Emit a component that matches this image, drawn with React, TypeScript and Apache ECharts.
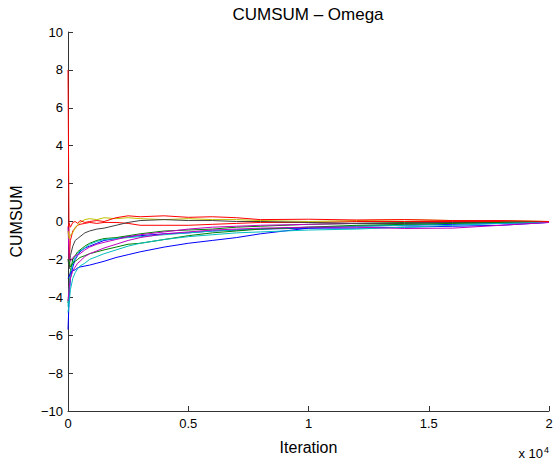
import React, { useEffect, useRef } from "react";
import * as echarts from "echarts";

const iterations = [0, 50, 100, 200, 300, 400, 500, 700, 900, 1200, 1500, 2000, 2500, 3000, 4000, 5000, 6000, 7000, 8000, 10000, 12000, 14000, 16000, 18000, 20000];

const blueA = [-5.7, -4.0, -3.0, -2.4, -2.0, -1.8, -1.6, -1.4, -1.3, -1.15, -1.0, -0.9, -0.8, -0.75, -0.65, -0.6, -0.5, -0.45, -0.4, -0.35, -0.25, -0.2, -0.15, -0.1, -0.05];
const greenA = [-4.3, -3.5, -2.6, -2.0, -1.8, -1.6, -1.5, -1.3, -1.15, -1.0, -0.9, -0.85, -0.75, -0.65, -0.5, -0.45, -0.4, -0.3, -0.25, -0.15, -0.1, -0.05, -0.05, 0.0, 0.0];
const redA = [8.0, -2.0, -1.0, -0.5, -0.35, -0.2, -0.15, -0.1, -0.05, -0.1, -0.05, -0.05, -0.1, -0.2, -0.2, -0.2, -0.15, -0.1, -0.05, -0.05, 0.0, 0.0, 0.0, 0.0, 0.0];
const cyanA = [-4.5, -3.5, -2.8, -2.2, -1.9, -1.7, -1.55, -1.4, -1.2, -1.05, -0.95, -0.9, -0.85, -0.8, -0.7, -0.6, -0.5, -0.45, -0.4, -0.3, -0.25, -0.2, -0.1, -0.05, 0.0];
const magentaA = [-0.3, -2.0, -2.1, -1.9, -1.8, -1.75, -1.7, -1.5, -1.35, -1.2, -1.1, -0.95, -0.8, -0.7, -0.55, -0.4, -0.3, -0.25, -0.2, -0.15, -0.1, -0.1, -0.05, -0.05, 0.0];
const yellow = [-0.5, -0.9, -0.7, -0.6, -0.3, -0.2, -0.05, 0.1, 0.15, 0.1, 0.2, 0.15, 0.2, 0.15, 0.1, 0.15, 0.1, 0.1, 0.05, 0.0, 0.05, 0.1, 0.05, 0.05, 0.0];
const gray = [-2.0, -2.5, -1.8, -1.3, -1.0, -0.9, -0.8, -0.6, -0.5, -0.4, -0.35, -0.2, -0.05, 0.05, 0.1, 0.05, 0.05, 0.0, 0.0, -0.05, -0.1, -0.1, -0.05, -0.05, 0.0];
const blueB = [-3.0, -2.9, -2.7, -2.6, -2.55, -2.45, -2.4, -2.35, -2.3, -2.2, -2.1, -1.9, -1.75, -1.6, -1.35, -1.15, -1.0, -0.85, -0.65, -0.35, -0.35, -0.3, -0.25, -0.2, -0.05];
const greenB = [-2.0, -2.1, -2.4, -2.2, -2.1, -2.0, -1.9, -1.8, -1.7, -1.6, -1.5, -1.35, -1.2, -1.15, -0.95, -0.75, -0.6, -0.5, -0.4, -0.3, -0.2, -0.15, -0.1, -0.05, 0.0];
const redB = [-0.3, -0.1, -0.3, -0.05, 0.0, -0.1, 0.05, -0.05, 0.0, 0.05, 0.0, 0.2, 0.3, 0.25, 0.3, 0.22, 0.25, 0.2, 0.1, 0.12, 0.08, 0.1, 0.05, 0.05, 0.0];
const cyanB = [-4.8, -4.3, -3.6, -3.0, -2.7, -2.5, -2.35, -2.2, -2.0, -1.85, -1.7, -1.5, -1.3, -1.15, -0.95, -0.8, -0.7, -0.6, -0.55, -0.45, -0.4, -0.3, -0.2, -0.1, -0.05];
const magentaB = [-4.2, -3.5, -3.0, -2.6, -2.4, -2.2, -2.1, -1.85, -1.7, -1.55, -1.4, -1.2, -1.0, -0.85, -0.65, -0.55, -0.45, -0.4, -0.35, -0.3, -0.3, -0.37, -0.35, -0.2, -0.05];

const chains = [
  { name: "chain1", color: "#0000ff", values: blueA },
  { name: "chain2", color: "#008000", values: greenA },
  { name: "chain3", color: "#ff0000", values: redA },
  { name: "chain4", color: "#00bfbf", values: cyanA },
  { name: "chain5", color: "#bf00bf", values: magentaA },
  { name: "chain6", color: "#bfbf00", values: yellow },
  { name: "chain7", color: "#404040", values: gray },
  { name: "chain8", color: "#0000ff", values: blueB },
  { name: "chain9", color: "#008000", values: greenB },
  { name: "chain10", color: "#ff0000", values: redB },
  { name: "chain11", color: "#00bfbf", values: cyanB },
  { name: "chain12", color: "#bf00bf", values: magentaB },
];

const titleText = "CUMSUM \u2013 Omega";
const xName = "Iteration";
const yName = "CUMSUM";
const yTicks = { min: -10, max: 10, interval: 2 };
const xTicks = { min: 0, max: 20000, interval: 5000, scale: 10000 };

const FONT = "'Liberation Sans', Arial, Helvetica, sans-serif";

export default function App() {
  const ref = useRef<HTMLDivElement>(null);
  useEffect(() => {
    if (!ref.current) return;
    const chart = echarts.init(ref.current, null, { renderer: "svg" });
    const axisColor = "#333333";
    chart.setOption({
      animation: false,
      backgroundColor: "#ffffff",
      textStyle: { fontFamily: FONT },
      grid: { left: 68, right: 7, top: 32, bottom: 55, containLabel: false },
      xAxis: {
        type: "value",
        min: xTicks.min,
        max: xTicks.max,
        interval: xTicks.interval,
        name: xName,
        nameLocation: "middle",
        nameGap: 28,
        nameTextStyle: { color: "#000", fontSize: 16, fontFamily: FONT },
        axisLine: { show: true, onZero: false, lineStyle: { color: axisColor, width: 1 } },
        axisTick: { show: true, inside: true, length: 5, lineStyle: { color: axisColor } },
        splitLine: { show: false },
        axisLabel: {
          color: "#000",
          fontSize: 13,
          fontFamily: FONT,
          margin: 6,
          formatter: (v: number) => String(v / xTicks.scale),
        },
      },
      yAxis: {
        type: "value",
        min: yTicks.min,
        max: yTicks.max,
        interval: yTicks.interval,
        name: yName,
        nameLocation: "middle",
        nameRotate: 90,
        nameGap: 44,
        nameTextStyle: { color: "#000", fontSize: 16, fontFamily: FONT },
        axisLine: { show: true, onZero: false, lineStyle: { color: axisColor, width: 1 } },
        axisTick: { show: true, inside: true, length: 5, lineStyle: { color: axisColor } },
        splitLine: { show: false },
        axisLabel: {
          color: "#000",
          fontSize: 13,
          fontFamily: FONT,
          margin: 5,
          formatter: (v: number) => (v < 0 ? "\u2212" + Math.abs(v) : String(v)),
        },
      },
      series: chains.map((c) => ({
        name: c.name,
        type: "line",
        showSymbol: false,
        symbol: "none",
        data: iterations.map((it, i) => [it, c.values[i]]),
        lineStyle: { color: c.color, width: 1 },
        itemStyle: { color: c.color },
        emphasis: { disabled: true },
      })),
      graphic: [
        {
          type: "text",
          x: 308,
          y: 14,
          style: {
            text: titleText,
            align: "center",
            verticalAlign: "middle",
            fontSize: 17,
            fontFamily: FONT,
            fill: "#000",
          },
        },
        {
          type: "text",
          x: 543,
          y: 460,
          style: {
            text: "x 10",
            align: "right",
            verticalAlign: "bottom",
            fontSize: 13,
            fontFamily: FONT,
            fill: "#000",
          },
        },
        {
          type: "text",
          x: 544,
          y: 450,
          style: {
            text: "4",
            align: "left",
            verticalAlign: "middle",
            fontSize: 9,
            fontFamily: FONT,
            fill: "#000",
          },
        },
      ],
    });
    return () => chart.dispose();
  }, []);
  return (
    <div
      ref={ref}
      style={{ position: "fixed", left: 0, top: 0, width: 556, height: 466, background: "#fff" }}
    />
  );
}
